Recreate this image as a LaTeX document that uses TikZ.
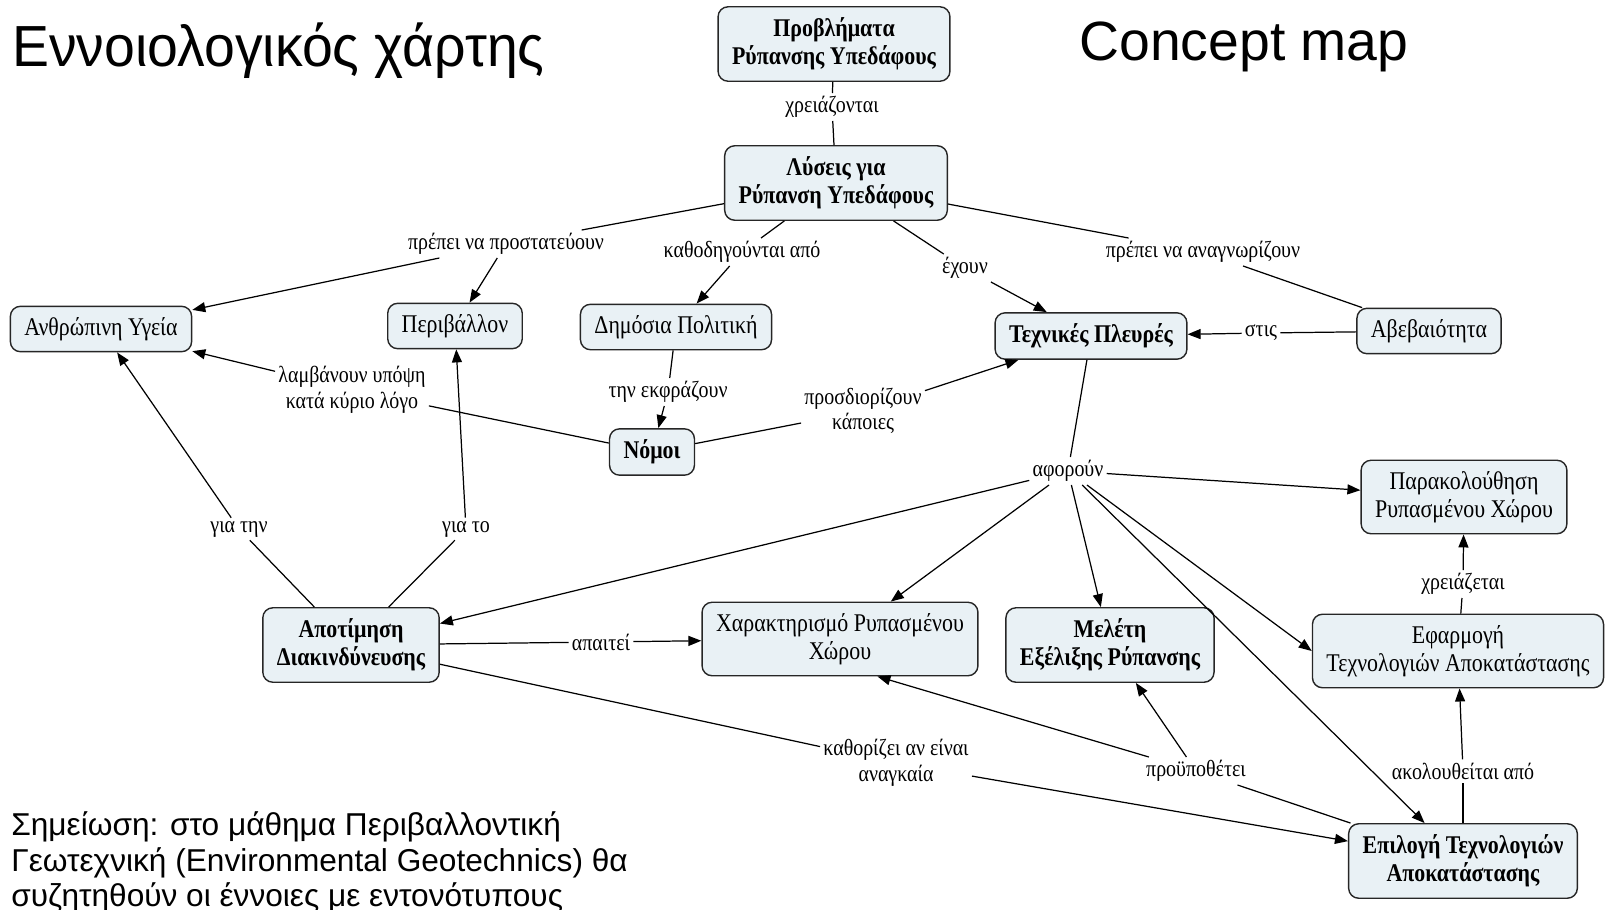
\documentclass[tikz,border=0pt]{standalone}
\usepackage{fontspec}
\setmainfont{Liberation Serif}[FakeStretch=0.86]
\newfontfamily\titlefont{Liberation Sans}[FakeStretch=0.955]
\newfontfamily\notefont{Liberation Sans}
\usetikzlibrary{arrows.meta}
\definecolor{conceptfill}{RGB}{233,241,245}
\tikzset{
  concept/.style={draw=black!85, line width=0.8pt, fill=conceptfill, rounded corners=0.2cm,
    align=center, inner xsep=0.28cm, inner ysep=0.22cm, minimum height=0.9cm,
    font=\fontsize{14.5}{16}\selectfont},
  keyconcept/.style={concept, font=\fontsize{14.5}{16}\selectfont\bfseries},
  linkword/.style={inner sep=0.06cm, align=center, font=\fontsize{13.2}{14.5}\selectfont},
  relation/.style={line width=0.7pt},
  relationto/.style={relation, -{Triangle[length=0.26cm,width=0.2cm]}},
  heading/.style={anchor=base west, inner sep=0pt},
}
\begin{document}
\begin{tikzpicture}[x=0.02cm,y=-0.02cm]
  \useasboundingbox (0,0) rectangle (1607,910);
  \clip (0,0) rectangle (1607,910);
  % headings and note
  \node[heading, font=\titlefont\fontsize{33}{36}\selectfont] (titlegr) at (12,66) {Εννοιολογικός χάρτης};
  \node[heading, font=\notefont\fontsize{31.5}{34}\selectfont] (titleen) at (1079,60) {Concept map};
  \node[heading, font=\notefont\fontsize{18}{20}\selectfont] (note1) at (11,835) {Σημείωση: στο μάθημα Περιβαλλοντική};
  \node[heading, font=\notefont\fontsize{18}{20}\selectfont] (note2) at (11,871) {Γεωτεχνική (Environmental Geotechnics) θα};
  \node[heading, font=\notefont\fontsize{18}{20}\selectfont] (note3) at (11,906) {συζητηθούν οι έννοιες με εντονότυπους};
  % concepts
  \node[keyconcept] (problems) at (834,44) {Προβλήματα\\Ρύπανσης Υπεδάφους};
  \node[keyconcept] (solutions) at (836,183) {Λύσεις για\\Ρύπανση Υπεδάφους};
  \node[concept] (health) at (101,329) {Ανθρώπινη Υγεία};
  \node[concept] (environment) at (455,326) {Περιβάλλον};
  \node[concept] (policy) at (676,327) {Δημόσια Πολιτική};
  \node[keyconcept] (technical) at (1091,336) {Τεχνικές Πλευρές};
  \node[concept] (uncertainty) at (1429,331) {Αβεβαιότητα};
  \node[keyconcept] (laws) at (652,452) {Νόμοι};
  \node[concept] (monitoring) at (1464,497) {Παρακολούθηση\\Ρυπασμένου Χώρου};
  \node[keyconcept] (risk) at (351,645) {Αποτίμηση\\Διακινδύνευσης};
  \node[concept] (characterisation) at (840,639) {Χαρακτηρισμό Ρυπασμένου\\Χώρου};
  \node[keyconcept] (evolution) at (1110,645) {Μελέτη\\Εξέλιξης Ρύπανσης};
  \node[concept] (application) at (1458,651) {Εφαρμογή\\Τεχνολογιών Αποκατάστασης};
  \node[keyconcept] (selection) at (1463,861) {Επιλογή Τεχνολογιών\\Αποκατάστασης};
  % linking words
  \node[linkword] (need) at (832,107) {χρειάζονται};
  \node[linkword] (protect) at (506,244) {πρέπει να προστατεύουν};
  \node[linkword] (guided) at (742,252) {καθοδηγούνται από};
  \node[linkword] (have) at (965,268) {έχουν};
  \node[linkword] (recognise) at (1203,252) {πρέπει να αναγνωρίζουν};
  \node[linkword] (in) at (1261,333) {στις};
  \node[linkword] (consider) at (352,390) {λαμβάνουν υπόψη\\κατά κύριο λόγο};
  \node[linkword] (express) at (668,392) {την εκφράζουν};
  \node[linkword] (define) at (863,411) {προσδιορίζουν\\κάποιες};
  \node[linkword] (concern) at (1068,471) {αφορούν};
  \node[linkword] (forthe) at (239,529) {για την};
  \node[linkword] (forit) at (466,529) {για το};
  \node[linkword] (requires) at (601,642) {απαιτεί};
  \node[linkword] (needs) at (1463,584) {χρειάζεται};
  \node[linkword] (decides) at (896,763) {καθορίζει αν είναι\\αναγκαία};
  \node[linkword] (presup) at (1196,771) {προϋποθέτει};
  \node[linkword] (followed) at (1463,771) {ακολουθείται από};
  % connectors
  \draw[relation] (problems) -- (need) -- (solutions);
  \draw[relation] (solutions) -- (protect) edge[relationto] (health) edge[relationto] (environment);
  \draw[relation] (solutions) -- (guided) edge[relationto] (policy);
  \draw[relation] (solutions) -- (have) edge[relationto] (technical);
  \draw[relation] (solutions) -- (recognise) -- (uncertainty);
  \draw[relation] (uncertainty) -- (in) edge[relationto] (technical);
  \draw[relation] (policy) -- (express) edge[relationto] (laws);
  \draw[relation] (laws) -- (consider) edge[relationto] (health);
  \draw[relation] (laws) -- (define) edge[relationto] (technical);
  \draw[relation] (technical) -- (concern)
    edge[relationto] (monitoring) edge[relationto] (risk) edge[relationto] (characterisation)
    edge[relationto] (evolution) edge[relationto] (application.west) edge[relationto] (selection);
  \draw[relation] (risk) -- (forthe) edge[relationto] (health);
  \draw[relation] (risk) -- (forit) edge[relationto] (environment);
  \draw[relation] (risk) -- (requires) edge[relationto] (characterisation);
  \draw[relation] (risk) -- (decides) edge[relationto] (selection);
  \draw[relation] (selection) -- (presup) edge[relationto] (characterisation.-45) edge[relationto] (evolution);
  \draw[relation] (selection) -- (followed) edge[relationto] (application);
  \draw[relation] (application) -- (needs) edge[relationto] (monitoring);
\end{tikzpicture}
\end{document}
